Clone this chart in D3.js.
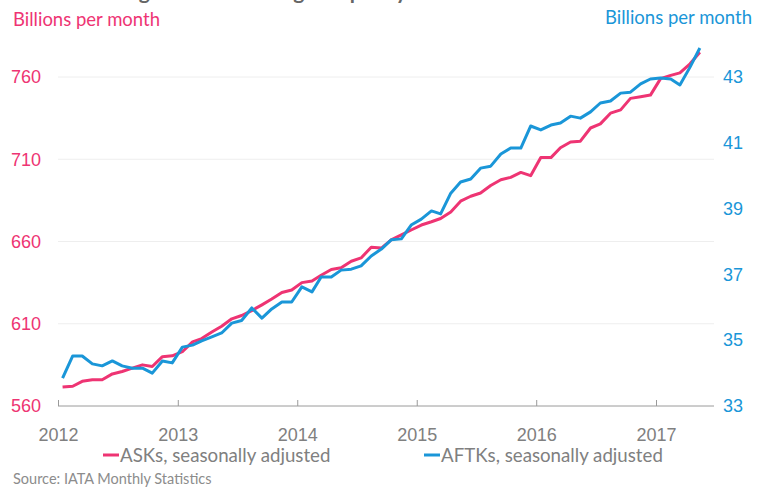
<!DOCTYPE html>
<html>
<head>
<meta charset="utf-8">
<script src="https://cdn.jsdelivr.net/npm/d3@7"></script>
<style>
  body { margin: 0; background: #fff; }
  svg { font-family: Lato, "Open Sans", sans-serif; }
</style>
</head>
<body>
<div class="chart"></div>
<script>
// monthly data, Jan 2012 - May 2017
const startMonth = new Date(2012, 0, 1);
const asks = [571.5, 572, 575, 576, 576, 579.5, 581, 583, 585, 584, 590, 590.5,
  593, 599, 601, 605, 608.5, 613, 615, 618, 621.5, 625, 629, 630.5,
  635, 636, 639.5, 643, 644, 648, 650, 656.5, 656, 661, 664, 667,
  670, 672, 674, 678, 684.5, 687.5, 689.5, 694, 697.5, 699, 702, 700,
  711, 711, 717, 720.5, 721, 729, 731.5, 738, 740, 747, 748, 749,
  759, 761, 762.5, 768, 775];
const aftks = [33.85, 34.52, 34.52, 34.28, 34.22, 34.37, 34.22, 34.15, 34.15, 34.0, 34.37, 34.31,
  34.79, 34.85, 34.98, 35.1, 35.22, 35.52, 35.6, 35.98, 35.67, 35.95, 36.16, 36.16,
  36.62, 36.47, 36.92, 36.92, 37.13, 37.16, 37.26, 37.56, 37.77, 38.05, 38.08, 38.5,
  38.68, 38.93, 38.84, 39.47, 39.81, 39.9, 40.23, 40.29, 40.66, 40.84, 40.84, 41.51,
  41.39, 41.54, 41.6, 41.81, 41.75, 41.94, 42.21, 42.27, 42.51, 42.54, 42.79, 42.94,
  42.97, 42.94, 42.76, 43.3, 43.88];
const leftTicks = [560, 610, 660, 710, 760];
const rightTicks = [33, 35, 37, 39, 41, 43];
const yearTicks = [2012, 2013, 2014, 2015, 2016, 2017];

const width = 758, height = 488;
const pink = '#ee3473', blue = '#1a96d8', grey = '#808080';

// points sit mid-month
const months = asks.map((d, i) => new Date(2012, i, 15));

const x = d3.scaleTime()
  .domain([startMonth, new Date(2017, 0, 1)])
  .range([58, 656]);
const yL = d3.scaleLinear().domain([560, 760]).range([406, 77]);
const yR = d3.scaleLinear().domain([33, 43]).range([406, 77]);

const svg = d3.select('.chart').append('svg')
  .attr('width', width).attr('height', height);

// title, cut off at the top
svg.append('text')
  .attr('x', 36).attr('y', -1)
  .attr('font-size', '21px').attr('font-weight', 'bold')
  .style('fill', '#666')
  .text('Continued growth in air freight capacity');

// gridlines
svg.append('g').selectAll('line')
  .data(leftTicks.slice(1))
  .enter().append('line')
  .attr('x1', 58).attr('x2', 714)
  .attr('y1', d => yL(d)).attr('y2', d => yL(d))
  .style('stroke', '#eeeeee').style('stroke-width', 1);

// x axis
const xAxis = svg.append('g')
  .attr('transform', 'translate(0,406)')
  .call(d3.axisBottom(x)
    .tickValues(yearTicks.map(y => new Date(y, 0, 1)))
    .tickFormat(d3.timeFormat('%Y'))
    .tickSize(-6).tickPadding(14));
xAxis.select('.domain').attr('d', 'M58,0H714').style('stroke', '#9a9a9a');
xAxis.selectAll('.tick line').style('stroke', '#9a9a9a').attr('y2', -6);
xAxis.selectAll('.tick text')
  .attr('font-size', '18px').style('fill', grey).attr('font-family', null)
  .attr('y', 22);

// left axis
const lAxis = svg.append('g')
  .attr('transform', 'translate(41,0)')
  .call(d3.axisLeft(yL).tickValues(leftTicks).tickSize(0).tickPadding(0));
lAxis.select('.domain').remove();
lAxis.selectAll('text')
  .attr('font-size', '18px').style('fill', pink).attr('font-family', null);

// right axis
const rAxis = svg.append('g')
  .attr('transform', 'translate(723,0)')
  .call(d3.axisRight(yR).tickValues(rightTicks).tickSize(0).tickPadding(0));
rAxis.select('.domain').remove();
rAxis.selectAll('text')
  .attr('font-size', '18px').style('fill', blue).attr('font-family', null);

// unit labels
svg.append('text').attr('x', 13).attr('y', 26)
  .attr('font-size', '18.5px').style('fill', pink)
  .text('Billions per month');
svg.append('text').attr('x', 752).attr('y', 24)
  .attr('text-anchor', 'end')
  .attr('font-size', '18.5px').style('fill', blue)
  .text('Billions per month');

// lines
const lineL = d3.line().x((d, i) => x(months[i])).y(d => yL(d));
const lineR = d3.line().x((d, i) => x(months[i])).y(d => yR(d));

svg.append('path').datum(asks)
  .attr('d', lineL)
  .style('fill', 'none').style('stroke', pink)
  .style('stroke-width', 3).style('stroke-linejoin', 'round');
svg.append('path').datum(aftks)
  .attr('d', lineR)
  .style('fill', 'none').style('stroke', blue)
  .style('stroke-width', 3).style('stroke-linejoin', 'round');

// legend
const legend = [
  {label: 'ASKs, seasonally adjusted', color: pink, x: 103},
  {label: 'AFTKs, seasonally adjusted', color: blue, x: 424}
];
const lg = svg.append('g').selectAll('g')
  .data(legend).enter().append('g')
  .attr('transform', d => 'translate(' + d.x + ',455)');
lg.append('line')
  .attr('x1', 0).attr('x2', 16).attr('y1', 0).attr('y2', 0)
  .style('stroke', d => d.color).style('stroke-width', 3);
lg.append('text')
  .attr('x', 17).attr('y', 6.5)
  .attr('font-size', '18.7px').style('fill', grey)
  .text(d => d.label);

svg.append('text').attr('x', 13).attr('y', 484)
  .attr('font-size', '14.5px').style('fill', '#8c8c8c')
  .text('Source: IATA Monthly Statistics');
</script>
</body>
</html>
